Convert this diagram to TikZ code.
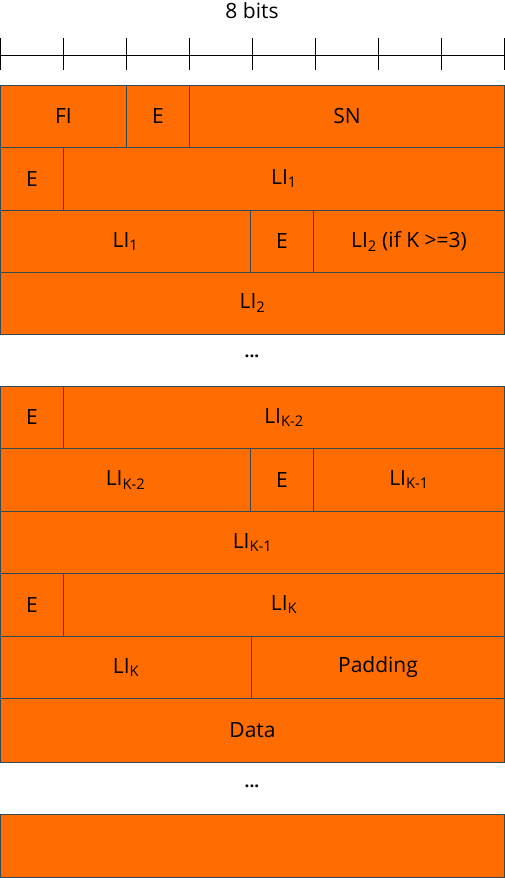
\documentclass[tikz,border=0pt]{standalone}
\usepackage{fontspec}
\setmainfont{Open Sans}
\usetikzlibrary{positioning}
\definecolor{pduorange}{RGB}{255,109,0}
\definecolor{pduedge}{RGB}{50,74,88}

\begin{document}
\begin{tikzpicture}[
      x=1pt, y=-1pt,
      field/.style={
        draw=pduedge,
        fill=pduorange,
        line width=0.9pt,
        inner sep=0pt,
        outer sep=0pt,
        anchor=north west,
        minimum height=62.5pt,
        minimum width=#1,
        font=\fontsize{21}{25}\selectfont
      },
      field/.default=504pt,
      gap/.style={font=\fontsize{17}{20}\selectfont\bfseries}
    ]
      \useasboundingbox (0,0) rectangle (505,878);

      % Ruler
      \node[font=\fontsize{21}{25}\selectfont] (bits) at (252,11) {8 bits};
      \draw[line width=1pt] (0.5,55) -- (504.5,55);
      \foreach \i in {0,...,8}
        \draw[line width=1pt] (0.5+63*\i,38) -- (0.5+63*\i,70);

      % First header
      \node[field=126pt] (fi) at (0.5,85) {FI};
      \node[field=63pt] (e0) at (126.5,85) {E};
      \node[field=315pt] (sn) at (189.5,85) {SN};

      \node[field=63pt] (e1) at (0.5,147.5) {E};
      \node[field=441pt] (li1a) at (63.5,147.5) {LI\textsubscript{1}};

      \node[field=250pt] (li1b) at (0.5,210) {LI\textsubscript{1}};
      \node[field=63pt] (e2) at (250.5,210) {E};
      \node[field=191pt] (li2a) at (313.5,210) {LI\textsubscript{2} (if K >=3)};

      \node[field] (li2b) at (0.5,272) {LI\textsubscript{2}};

      \node[gap] (dotsA) at (252,356) {...};

      % Last headers
      \node[field=63pt] (e3) at (0.5,386) {E};
      \node[field=441pt] (lik2a) at (63.5,386) {LI\textsubscript{K-2}};

      \node[field=250pt] (lik2b) at (0.5,448.5) {LI\textsubscript{K-2}};
      \node[field=63pt] (e4) at (250.5,448.5) {E};
      \node[field=191pt] (lik1a) at (313.5,448.5) {LI\textsubscript{K-1}};

      \node[field] (lik1b) at (0.5,511) {LI\textsubscript{K-1}};

      \node[field=63pt] (e5) at (0.5,573.5) {E};
      \node[field=441pt] (lika) at (63.5,573.5) {LI\textsubscript{K}};

      \node[field=251pt] (likb) at (0.5,636) {LI\textsubscript{K}};
      \node[field=253pt] (pad) at (251.5,636) {Padding};

      \node[field, minimum height=63.5pt] (data) at (0.5,698.5) {Data};

      \node[gap] (dotsB) at (252,786) {...};

      \node[field, minimum height=63pt] (tail) at (0.5,814) {};
    \end{tikzpicture}
\end{document}
